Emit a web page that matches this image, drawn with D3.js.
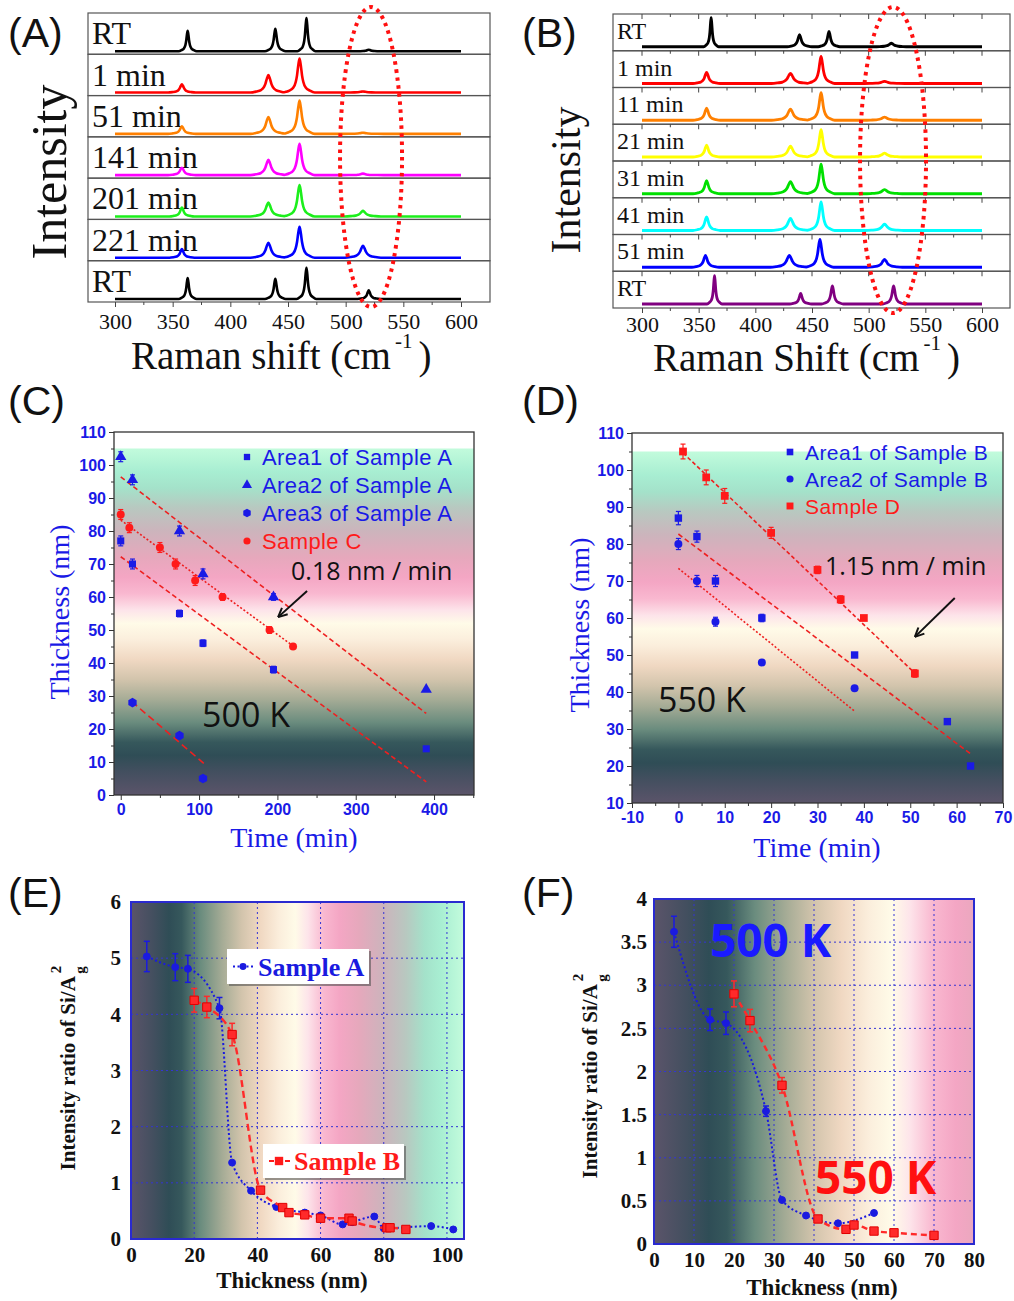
<!DOCTYPE html>
<html>
<head>
<meta charset="utf-8">
<script src="https://cdn.jsdelivr.net/npm/d3@7"></script>
<style>body{margin:0;background:#fff}</style>
</head>
<body>
<div id="fig"></div>
<script>
// ---------------- data ----------------
// Raman spectra (A, B): each peak = [position cm-1, height (0..1 of strip), half width]
var ramanTicks = [300, 350, 400, 450, 500, 550, 600];
var ramanMinor = [325, 375, 425, 475, 525, 575];
// line shape of a single peak (offsets in half widths)
var peakOffsets = [-6, -4, -2.5, -1.5, -1, -0.5, 0, 0.5, 1, 1.5, 2.5, 4, 6];
var peakShape   = [0, 0.06, 0.14, 0.31, 0.5, 0.8, 1, 0.8, 0.5, 0.31, 0.14, 0.06, 0];

var labelsA = ["RT", "1 min", "51 min", "141 min", "201 min", "221 min", "RT"];
var colorsA = ["#000000", "#ff0000", "#ff8000", "#ff00ff", "#1cef1c", "#0000ff", "#000000"];
var peaksA = [
  [[363, 0.55, 1.3], [439, 0.60, 1.5], [466, 0.89, 1.3], [520, 0.04, 2.0]],
  [[358, 0.22, 2.0], [433, 0.47, 2.6], [460, 0.91, 2.2], [515, 0.03, 3.0]],
  [[358, 0.20, 2.0], [433, 0.45, 2.6], [460, 0.89, 2.2], [515, 0.03, 3.0]],
  [[358, 0.20, 2.0], [433, 0.41, 2.6], [460, 0.84, 2.2], [515, 0.04, 3.0]],
  [[358, 0.24, 1.8], [433, 0.37, 2.6], [460, 0.84, 2.2], [515, 0.15, 2.6]],
  [[358, 0.23, 1.8], [433, 0.40, 2.6], [460, 0.83, 2.2], [515, 0.32, 2.6]],
  [[363, 0.56, 1.3], [439, 0.54, 1.5], [466, 0.84, 1.4], [520, 0.23, 1.6]]
];

var labelsB = ["RT", "1 min", "11 min", "21 min", "31 min", "41 min", "51 min", "RT"];
var colorsB = ["#000000", "#ff0000", "#ff8000", "#ffff00", "#00e000", "#00ffff", "#0000ff", "#800080"];
var peaksB = [
  [[361, 0.92, 1.1], [439, 0.38, 1.8], [465, 0.48, 1.6], [520, 0.11, 2.5]],
  [[357, 0.35, 2.0], [431, 0.32, 2.8], [458, 0.85, 2.0], [514, 0.07, 3.0]],
  [[357, 0.38, 2.0], [431, 0.35, 2.8], [458, 0.87, 2.0], [514, 0.10, 3.0]],
  [[357, 0.37, 2.0], [431, 0.34, 2.8], [458, 0.86, 2.0], [514, 0.12, 3.0]],
  [[357, 0.41, 2.0], [431, 0.38, 2.8], [458, 0.93, 2.0], [514, 0.13, 3.0]],
  [[357, 0.43, 2.0], [431, 0.38, 2.8], [458, 0.90, 2.0], [514, 0.20, 2.8]],
  [[356, 0.37, 2.0], [430, 0.37, 2.8], [457, 0.88, 2.0], [514, 0.25, 2.6]],
  [[364, 0.89, 1.1], [440, 0.33, 1.6], [468, 0.57, 1.6], [522, 0.57, 1.6]]
];

// colour scale of the backgrounds: [thickness nm, colour]
var gradientStops = [
  [0, "#5b546a"], [7, "#434f5f"], [12, "#2f4d56"], [16, "#36585c"], [22, "#6a8c7e"],
  [29, "#a6ac96"], [35, "#d2c4ac"], [41, "#f0d8c2"], [47, "#fbeedc"], [52, "#fffbe8"],
  [56, "#fde4ea"], [61, "#f9b8d0"], [66, "#f4a6c4"], [72, "#e6a8bc"], [80, "#ccb4bc"],
  [87, "#b8c8c0"], [93, "#a4e2ca"], [98, "#a8eed2"], [105, "#c2fbdc"]
];

// (C) 500 K thickness vs time: [time, thickness, error]
var area1A = [[0, 77, 1.5], [15, 70, 1.5], [75, 55, 1], [105, 46, 1], [195, 38, 1], [390, 14, 0]];
var area2A = [[0, 102.5, 1.5], [15, 95.5, 1.5], [75, 80, 1.5], [105, 67, 1.5], [195, 60, 1], [390, 32, 0]];
var area3A = [[15, 28, 0.5], [75, 18, 0.5], [105, 5, 0.5]];
var sampleC = [[0, 85, 1.5], [11, 81, 1.5], [50, 75, 1.5], [70, 70, 1.5], [95, 65, 1.5], [130, 60, 1], [190, 50, 1], [220, 45, 0.5]];
var fitsC = [ // [start, end, dash]
  [[0, 96.4], [390, 24.7], "5,3"],
  [[0, 83.3], [221, 45], "2,2"],
  [[0, 72.2], [390, 4], "5,3"],
  [[14, 28.3], [106, 9.6], "7,4"]
];

// (D) 550 K thickness vs time
var area1B = [[0, 87, 1.8], [4, 82, 1.5], [8, 70, 1.5], [18, 60, 1], [38, 50, 0.5], [58, 32, 0], [63, 20, 0]];
var area2B = [[0, 80, 1.5], [4, 70, 1.5], [8, 59, 1.2], [18, 48, 0.5], [38, 41, 0.5]];
var sampleD = [[1, 105, 2], [6, 98, 2], [10, 93, 2], [20, 83, 1.5], [30, 73, 1], [35, 65, 1], [40, 60, 0.5], [51, 45, 1]];
var fitsD = [
  [[1, 104.6], [51, 45.1], "4,2.5"],
  [[0, 82.7], [63.3, 23], "5,3"],
  [[0, 73.4], [38.1, 34.7], "2,2"]
];

// (E) intensity ratio vs thickness: [thickness, ratio, error]
var sampleA_E = [[5, 5.03, 0.27], [14, 4.84, 0.24], [18, 4.81, 0.24], [28, 4.11, 0.19], [32, 1.36, 0], [38, 0.86, 0],
  [46, 0.57, 0], [55, 0.47, 0], [60, 0.42, 0], [67, 0.26, 0], [70, 0.3, 0], [77, 0.4, 0], [80, 0.19, 0], [95, 0.23, 0], [102, 0.17, 0]];
var sampleB_E = [[20, 4.25, 0.21], [24, 4.13, 0.19], [32, 3.64, 0.2], [41, 0.87, 0], [48, 0.56, 0], [50, 0.47, 0],
  [55, 0.43, 0], [60, 0.37, 0], [69, 0.37, 0], [70, 0.32, 0], [81, 0.2, 0], [82, 0.2, 0], [87, 0.17, 0]];

// (F) 500 K and 550 K
var k500_F = [[5, 3.62, 0.18], [14, 2.6, 0.125], [18, 2.56, 0.13], [28, 1.54, 0.06], [32, 0.51, 0], [38, 0.33, 0], [46, 0.24, 0], [55, 0.36, 0]];
var k550_F = [[20, 2.9, 0.15], [24, 2.59, 0.13], [32, 1.84, 0.09], [41, 0.29, 0], [48, 0.17, 0], [50, 0.22, 0], [55, 0.15, 0], [60, 0.13, 0], [70, 0.1, 0]];

// ---------------- drawing ----------------
var SERIF = "'Liberation Serif','Times New Roman',serif";
var SANS = "'Liberation Sans',Arial,sans-serif";
var OPEN = "'Open Sans','Liberation Sans',sans-serif";
var BLUE = "#1a1ae6", RED = "#ff1a1a";
var plain = function (d) { return String(d); };

var svg = d3.select("#fig").append("svg")
  .attr("width", 1014).attr("height", 1301)
  .style("background", "#fff");
var defs = svg.append("defs");

// panel letters
[["(A)", 8, 47], ["(B)", 522, 47], ["(C)", 8, 415], ["(D)", 522, 415], ["(E)", 8, 907], ["(F)", 522, 907]]
  .forEach(function (p) {
    svg.append("text").attr("x", p[1]).attr("y", p[2]).text(p[0])
      .attr("font-family", SANS).attr("font-size", 41).attr("fill", "#111");
  });

var profile = d3.scaleLinear().domain(peakOffsets).range(peakShape).clamp(true);

function ramanPanel(cfg) {
  var g = svg.append("g");
  var x = d3.scaleLinear().domain([300, 600]).range([cfg.x300, cfg.x600]);
  var n = cfg.peaks.length, h = (cfg.bottom - cfg.top) / n;
  var line = d3.line().x(function (d) { return x(d[0]); }).y(function (d) { return d[1]; }).curve(d3.curveMonotoneX);

  cfg.peaks.forEach(function (pk, i) {
    var st = cfg.top + i * h, sb = st + h;
    g.append("rect").attr("x", cfg.left).attr("y", st)
      .attr("width", cfg.right - cfg.left).attr("height", h)
      .attr("fill", "none").attr("stroke", "#555").attr("stroke-width", 1.2);
    if (cfg.stripTicks) {
      ramanTicks.concat(ramanMinor).forEach(function (v) {
        var len = ramanTicks.indexOf(v) >= 0 ? 5 : 3;
        g.append("line").attr("x1", x(v)).attr("x2", x(v)).attr("y1", st).attr("y2", st + len)
          .attr("stroke", "#444").attr("stroke-width", 1);
      });
    }
    g.append("text").attr("x", cfg.left + 4).attr("y", sb - cfg.labelUp)
      .text(cfg.labels[i]).attr("font-family", SERIF).attr("font-size", cfg.labelSize).attr("fill", "#111");

    var y = d3.scaleLinear().domain([0, 1]).range([sb - cfg.base, st + 1]);
    var xs = [300, 600];
    pk.forEach(function (p) { peakOffsets.forEach(function (o) { xs.push(p[0] + o * p[2]); }); });
    xs = Array.from(new Set(xs)).filter(function (v) { return v >= 300 && v <= 600; }).sort(d3.ascending);
    var pts = xs.map(function (v) {
      return [v, y(d3.sum(pk, function (p) { return p[1] * profile((v - p[0]) / p[2]); }))];
    });
    g.append("path").datum(pts).attr("d", line)
      .attr("fill", "none").attr("stroke", cfg.colors[i]).attr("stroke-width", cfg.lw)
      .attr("stroke-linejoin", "round");
  });

  var ax = g.append("g").attr("transform", "translate(0," + cfg.bottom + ")")
    .call(d3.axisBottom(x).tickValues(ramanTicks).tickSize(5).tickPadding(cfg.tickPad).tickFormat(plain));
  ax.select(".domain").remove();
  ax.selectAll("line").attr("stroke", "#444");
  ax.selectAll("text").attr("font-family", SERIF).attr("font-size", 22).attr("fill", "#111");
  g.selectAll(".minor").data(ramanMinor).enter().append("line")
    .attr("x1", function (d) { return x(d); }).attr("x2", function (d) { return x(d); })
    .attr("y1", cfg.bottom).attr("y2", cfg.bottom + 3).attr("stroke", "#444");

  // dotted red ellipse around the Si peak
  g.append("ellipse").attr("cx", x(cfg.ell[0])).attr("cy", cfg.ell[1]).attr("rx", cfg.ell[2]).attr("ry", cfg.ell[3])
    .attr("fill", "none").attr("stroke", "#ff1010").attr("stroke-width", 4).attr("stroke-dasharray", "3.5,4.5");

  // axis titles
  var t = g.append("text").attr("x", cfg.titleX).attr("y", cfg.titleY)
    .attr("font-family", SERIF).attr("font-size", 39).attr("fill", "#111");
  t.append("tspan").text(cfg.title);
  t.append("tspan").text("-1").attr("font-size", 21).attr("dy", -21).attr("dx", 4);
  t.append("tspan").text(")").attr("dy", 21).attr("dx", 6);
  g.append("text").attr("transform", "translate(" + cfg.intX + "," + cfg.intY + ") rotate(-90)")
    .attr("text-anchor", "middle").text("Intensity")
    .attr("font-family", SERIF).attr("font-size", cfg.intSize).attr("fill", "#111");
}

ramanPanel({
  left: 88, right: 490, top: 13, bottom: 302, x300: 115, x600: 461,
  peaks: peaksA, labels: labelsA, colors: colorsA, base: 3, lw: 2.6,
  labelSize: 32, labelUp: 10, stripTicks: false, tickPad: 6,
  ell: [522, 157, 31, 150],
  title: "Raman shift (cm", titleX: 131, titleY: 369,
  intX: 66, intY: 172, intSize: 50
});
ramanPanel({
  left: 613, right: 1010, top: 14, bottom: 308, x300: 642, x600: 982,
  peaks: peaksB, labels: labelsB, colors: colorsB, base: 4, lw: 2.8,
  labelSize: 24, labelUp: 12, stripTicks: true, tickPad: 3,
  ell: [521.5, 160, 33, 153],
  title: "Raman Shift (cm", titleX: 653, titleY: 371,
  intX: 580, intY: 180, intSize: 42
});

function addGradient(id, x1, y1, x2, y2) {
  var lg = defs.append("linearGradient").attr("id", id).attr("gradientUnits", "userSpaceOnUse")
    .attr("x1", x1).attr("y1", y1).attr("x2", x2).attr("y2", y2);
  gradientStops.forEach(function (s) {
    lg.append("stop").attr("offset", s[0] / 105).attr("stop-color", s[1]);
  });
  return "url(#" + id + ")";
}

var hexagon = {
  draw: function (ctx, size) {
    var r = Math.sqrt(size / 2.6);
    for (var i = 0; i < 6; i++) {
      var a = Math.PI / 6 + i * Math.PI / 3;
      if (i === 0) ctx.moveTo(r * Math.cos(a), r * Math.sin(a)); else ctx.lineTo(r * Math.cos(a), r * Math.sin(a));
    }
    ctx.closePath();
  }
};

function timePanel(cfg) {
  var g = svg.append("g");
  var x = d3.scaleLinear().domain(cfg.xd).range([cfg.left, cfg.right]);
  var y = d3.scaleLinear().domain(cfg.yd).range([cfg.bottom, cfg.top]);
  var fill = addGradient("grad" + cfg.name, 0, y(cfg.yd[0]), 0, y(105));
  g.append("rect").attr("x", cfg.left).attr("y", cfg.top).attr("width", cfg.right - cfg.left)
    .attr("height", cfg.bottom - cfg.top).attr("fill", "#fff");
  g.append("rect").attr("x", cfg.left).attr("y", y(105)).attr("width", cfg.right - cfg.left)
    .attr("height", cfg.bottom - y(105)).attr("fill", fill);

  // fit lines
  cfg.fits.forEach(function (f) {
    g.append("line").attr("x1", x(f[0][0])).attr("y1", y(f[0][1])).attr("x2", x(f[1][0])).attr("y2", y(f[1][1]))
      .attr("stroke", "#ee2020").attr("stroke-width", 1.6).attr("stroke-dasharray", f[2]);
  });

  // series
  cfg.series.forEach(function (s) {
    var sg = g.append("g");
    s.data.forEach(function (d) {
      if (d[2] > 0) {
        var e0 = y(d[1] - d[2]), e1 = y(d[1] + d[2]), cx = x(d[0]);
        sg.append("line").attr("x1", cx).attr("x2", cx).attr("y1", e0).attr("y2", e1).attr("stroke", s.color).attr("stroke-width", 1.2);
        [e0, e1].forEach(function (yy) {
          sg.append("line").attr("x1", cx - 2.5).attr("x2", cx + 2.5).attr("y1", yy).attr("y2", yy).attr("stroke", s.color).attr("stroke-width", 1.2);
        });
      }
    });
    sg.selectAll("path.m").data(s.data).enter().append("path")
      .attr("transform", function (d) { return "translate(" + x(d[0]) + "," + y(d[1]) + ")"; })
      .attr("d", d3.symbol().type(s.symbol).size(s.size)).attr("fill", s.color);
  });

  // frame and axes
  g.append("rect").attr("x", cfg.left).attr("y", cfg.top).attr("width", cfg.right - cfg.left)
    .attr("height", cfg.bottom - cfg.top).attr("fill", "none").attr("stroke", "#333").attr("stroke-width", 1.3);
  var ay = g.append("g").attr("transform", "translate(" + cfg.left + ",0)")
    .call(d3.axisLeft(y).tickValues(d3.range(cfg.yd[0], cfg.yd[1] + 1, 10)).tickSize(5).tickPadding(3).tickFormat(plain));
  var ax = g.append("g").attr("transform", "translate(0," + cfg.bottom + ")")
    .call(d3.axisBottom(x).tickValues(cfg.xticks).tickSize(5).tickPadding(4).tickFormat(plain));
  [ay, ax].forEach(function (a) {
    a.select(".domain").remove();
    a.selectAll("line").attr("stroke", "#333");
    a.selectAll("text").attr("font-family", SANS).attr("font-weight", "bold").attr("font-size", 16).attr("fill", BLUE);
  });
  g.append("g").attr("transform", "translate(" + cfg.left + ",0)")
    .call(d3.axisLeft(y).tickValues(d3.range(cfg.yd[0] + 5, cfg.yd[1], 10)).tickSize(3).tickFormat(""))
    .call(function (a) { a.select(".domain").remove(); a.selectAll("line").attr("stroke", "#333"); });
  g.append("g").attr("transform", "translate(0," + cfg.bottom + ")")
    .call(d3.axisBottom(x).tickValues(cfg.xminor).tickSize(3).tickFormat(""))
    .call(function (a) { a.select(".domain").remove(); a.selectAll("line").attr("stroke", "#333"); });

  g.append("text").attr("x", cfg.xTitle[0]).attr("y", cfg.xTitle[1]).attr("text-anchor", "middle")
    .text("Time (min)").attr("font-family", SERIF).attr("font-size", 28).attr("fill", BLUE);
  g.append("text").attr("transform", "translate(" + cfg.yTitle[0] + "," + cfg.yTitle[1] + ") rotate(-90)")
    .attr("text-anchor", "middle").text("Thickness (nm)")
    .attr("font-family", SERIF).attr("font-size", 28).attr("fill", BLUE);

  // legend
  cfg.series.forEach(function (s, i) {
    var cy = cfg.legend[1] + i * cfg.legend[3];
    g.append("path").attr("transform", "translate(" + cfg.legend[0] + "," + cy + ")")
      .attr("d", d3.symbol().type(s.symbol).size(s.size * 0.8)).attr("fill", s.color);
    g.append("text").attr("x", cfg.legend[0] + 15).attr("y", cy + 8).text(s.name)
      .attr("font-family", SANS).attr("font-size", cfg.legend[2]).attr("letter-spacing", 0.4).attr("fill", s.color);
  });

  // annotations
  g.append("text").attr("x", x(cfg.rate[0])).attr("y", y(cfg.rate[1])).text(cfg.rate[2])
    .attr("font-family", OPEN).attr("font-size", 25).attr("fill", "#111");
  g.append("text").attr("x", x(cfg.temp[0])).attr("y", y(cfg.temp[1])).text(cfg.temp[2])
    .attr("font-family", OPEN).attr("font-size", 34).attr("fill", "#111");
  var a0 = [x(cfg.arrow[0][0]), y(cfg.arrow[0][1])], a1 = [x(cfg.arrow[1][0]), y(cfg.arrow[1][1])];
  g.append("line").attr("x1", a0[0]).attr("y1", a0[1]).attr("x2", a1[0]).attr("y2", a1[1])
    .attr("stroke", "#111").attr("stroke-width", 2);
  var ang = Math.atan2(a1[1] - a0[1], a1[0] - a0[0]);
  [ang + 2.7, ang - 2.7].forEach(function (b) {
    g.append("line").attr("x1", a1[0]).attr("y1", a1[1])
      .attr("x2", a1[0] + 10 * Math.cos(b)).attr("y2", a1[1] + 10 * Math.sin(b))
      .attr("stroke", "#111").attr("stroke-width", 2);
  });
}

timePanel({
  name: "C", left: 114, right: 474, top: 432, bottom: 795,
  xd: [-8.6, 451], yd: [0, 110],
  xticks: [0, 100, 200, 300, 400], xminor: [50, 150, 250, 350, 450],
  fits: fitsC,
  series: [
    { name: "Area1 of Sample A", data: area1A, color: BLUE, symbol: d3.symbolSquare, size: 50 },
    { name: "Area2 of Sample A", data: area2A, color: BLUE, symbol: d3.symbolTriangle, size: 55 },
    { name: "Area3 of Sample A", data: area3A, color: BLUE, symbol: hexagon, size: 60 },
    { name: "Sample C", data: sampleC, color: RED, symbol: d3.symbolCircle, size: 50 }
  ],
  legend: [247, 457, 22, 28],
  rate: [217.4, 65.2, "0.18 nm / min"],
  temp: [103.8, 20.6, "500 K"],
  arrow: [[237.9, 61.8], [200.9, 53.9]],
  xTitle: [294, 847], yTitle: [69, 612]
});

timePanel({
  name: "D", left: 632, right: 1003, top: 433, bottom: 803,
  xd: [-10, 70], yd: [10, 110],
  xticks: [-10, 0, 10, 20, 30, 40, 50, 60, 70], xminor: [-5, 5, 15, 25, 35, 45, 55, 65],
  fits: fitsD,
  series: [
    { name: "Area1 of Sample B", data: area1B, color: BLUE, symbol: d3.symbolSquare, size: 55 },
    { name: "Area2 of Sample B", data: area2B, color: BLUE, symbol: d3.symbolCircle, size: 50 },
    { name: "Sample D", data: sampleD, color: RED, symbol: d3.symbolSquare, size: 60 }
  ],
  legend: [790, 452, 21, 27],
  rate: [31.6, 71.6, "1.15 nm / min"],
  temp: [-4.4, 34.7, "550 K"],
  arrow: [[59.6, 65.4], [51, 54.9]],
  xTitle: [817, 857], yTitle: [589, 625]
});

function ratioPanel(cfg) {
  var g = svg.append("g");
  var x = d3.scaleLinear().domain(cfg.xd).range([cfg.left, cfg.right]);
  var y = d3.scaleLinear().domain(cfg.yd).range([cfg.bottom, cfg.top]);
  var fill = addGradient("grad" + cfg.name, x(0), 0, x(cfg.gradTo), 0);
  g.append("rect").attr("x", cfg.left).attr("y", cfg.top).attr("width", cfg.right - cfg.left)
    .attr("height", cfg.bottom - cfg.top).attr("fill", fill);

  // grid
  cfg.xticks.forEach(function (v) {
    if (v > cfg.xd[0] && x(v) < cfg.right - 1)
      g.append("line").attr("x1", x(v)).attr("x2", x(v)).attr("y1", cfg.top).attr("y2", cfg.bottom)
        .attr("stroke", "#3434d4").attr("stroke-width", 1).attr("stroke-dasharray", "2,3");
  });
  cfg.yticks.forEach(function (v) {
    if (v > cfg.yd[0] && v < cfg.yd[1])
      g.append("line").attr("x1", cfg.left).attr("x2", cfg.right).attr("y1", y(v)).attr("y2", y(v))
        .attr("stroke", "#3434d4").attr("stroke-width", 1).attr("stroke-dasharray", "2,3");
  });

  var line = d3.line().x(function (d) { return x(d[0]); }).y(function (d) { return y(d[1]); }).curve(d3.curveMonotoneX);
  cfg.series.forEach(function (s) {
    g.append("path").datum(s.data).attr("d", line).attr("fill", "none")
      .attr("stroke", s.color).attr("stroke-width", s.lw).attr("stroke-dasharray", s.dash);
    s.data.forEach(function (d) {
      if (d[2] > 0) {
        var y0 = y(d[1] - d[2]), y1 = y(d[1] + d[2]), cx = x(d[0]);
        g.append("line").attr("x1", cx).attr("x2", cx).attr("y1", y0).attr("y2", y1).attr("stroke", s.color).attr("stroke-width", 1.5);
        [y0, y1].forEach(function (yy) {
          g.append("line").attr("x1", cx - 3).attr("x2", cx + 3).attr("y1", yy).attr("y2", yy).attr("stroke", s.color).attr("stroke-width", 1.5);
        });
      }
    });
    g.selectAll(null).data(s.data).enter().append("path")
      .attr("transform", function (d) { return "translate(" + x(d[0]) + "," + y(d[1]) + ")"; })
      .attr("d", d3.symbol().type(s.symbol).size(s.size))
      .attr("fill", s.color).attr("stroke", s.stroke).attr("stroke-width", 1);
  });

  g.append("rect").attr("x", cfg.left).attr("y", cfg.top).attr("width", cfg.right - cfg.left)
    .attr("height", cfg.bottom - cfg.top).attr("fill", "none").attr("stroke", "#2a2ad0").attr("stroke-width", 2);

  var ay = g.append("g").attr("transform", "translate(" + cfg.left + ",0)")
    .call(d3.axisLeft(y).tickValues(cfg.yticks).tickSize(0).tickPadding(cfg.yPad).tickFormat(plain));
  var ax = g.append("g").attr("transform", "translate(0," + cfg.bottom + ")")
    .call(d3.axisBottom(x).tickValues(cfg.xticks).tickSize(0).tickPadding(8).tickFormat(plain));
  [ay, ax].forEach(function (a) {
    a.select(".domain").remove();
    a.selectAll("text").attr("font-family", SERIF).attr("font-weight", "bold").attr("font-size", 21).attr("fill", "#111");
  });

  g.append("text").attr("x", cfg.xTitle[0]).attr("y", cfg.xTitle[1]).attr("text-anchor", "middle")
    .text("Thickness (nm)").attr("font-family", SERIF).attr("font-weight", "bold").attr("font-size", 23).attr("fill", "#111");
  var yt = g.append("text").attr("transform", "translate(" + cfg.yTitle[0] + "," + cfg.yTitle[1] + ") rotate(-90)")
    .attr("text-anchor", "middle")
    .attr("font-family", SERIF).attr("font-weight", "bold").attr("font-size", 21).attr("fill", "#111");
  yt.append("tspan").text("Intensity ratio of Si/A");
  yt.append("tspan").text("2").attr("font-size", 15).attr("dx", 3).attr("dy", -14);
  yt.append("tspan").text("g").attr("font-size", 15).attr("dx", -8).attr("dy", 24);
  return { g: g, x: x, y: y };
}

var pE = ratioPanel({
  name: "E", left: 131, right: 464, top: 902, bottom: 1239,
  xd: [0, 105.4], yd: [0, 6], gradTo: 105,
  xticks: [0, 20, 40, 60, 80, 100], yticks: [0, 1, 2, 3, 4, 5, 6], yPad: 10,
  series: [
    { data: sampleA_E, color: "#1a1ae0", stroke: "#1a1ae0", lw: 2, dash: "2,2.5", symbol: d3.symbolCircle, size: 38 },
    { data: sampleB_E, color: "#ff2a2a", stroke: "#e00000", lw: 2.4, dash: "7,4", symbol: d3.symbolSquare, size: 70 }
  ],
  xTitle: [292, 1288], yTitle: [75, 1068]
});

// legends of E
[[227, 949, 142, 35, "Sample A", "#1a1ae0", d3.symbolCircle, 38, "2,2.5"],
 [263, 1144, 141, 34, "Sample B", "#ff1a1a", d3.symbolSquare, 70, "5,3"]].forEach(function (L) {
  pE.g.append("rect").attr("x", L[0] + 2).attr("y", L[1] + 2).attr("width", L[2]).attr("height", L[3]).attr("fill", "#555").attr("opacity", 0.6);
  pE.g.append("rect").attr("x", L[0]).attr("y", L[1]).attr("width", L[2]).attr("height", L[3]).attr("fill", "#fff");
  var cy = L[1] + L[3] / 2;
  pE.g.append("line").attr("x1", L[0] + 6).attr("x2", L[0] + 27).attr("y1", cy).attr("y2", cy)
    .attr("stroke", L[5]).attr("stroke-width", 2).attr("stroke-dasharray", L[8]);
  pE.g.append("path").attr("transform", "translate(" + (L[0] + 16) + "," + cy + ")")
    .attr("d", d3.symbol().type(L[6]).size(L[7])).attr("fill", L[5]);
  pE.g.append("text").attr("x", L[0] + 31).attr("y", cy + 9).text(L[4])
    .attr("font-family", SERIF).attr("font-weight", "bold").attr("font-size", 26).attr("fill", L[5]);
});

var pF = ratioPanel({
  name: "F", left: 654, right: 974, top: 899, bottom: 1244,
  xd: [0, 80], yd: [0, 4], gradTo: 120,
  xticks: [0, 10, 20, 30, 40, 50, 60, 70, 80], yticks: [0, 0.5, 1, 1.5, 2, 2.5, 3, 3.5, 4], yPad: 7,
  series: [
    { data: k500_F, color: "#1a1ae0", stroke: "#1a1ae0", lw: 2, dash: "2,2.5", symbol: d3.symbolCircle, size: 38 },
    { data: k550_F, color: "#ff2a2a", stroke: "#e00000", lw: 2.4, dash: "6,4", symbol: d3.symbolSquare, size: 70 }
  ],
  xTitle: [822, 1295], yTitle: [597, 1076]
});
pF.g.append("text").attr("x", 710).attr("y", 957).text("500 K")
  .attr("font-family", OPEN).attr("font-weight", "bold").attr("font-size", 46).attr("fill", "#1a1aff");
pF.g.append("text").attr("x", 815).attr("y", 1194).text("550 K")
  .attr("font-family", OPEN).attr("font-weight", "bold").attr("font-size", 46).attr("fill", "#ff1010");
</script>
</body>
</html>
